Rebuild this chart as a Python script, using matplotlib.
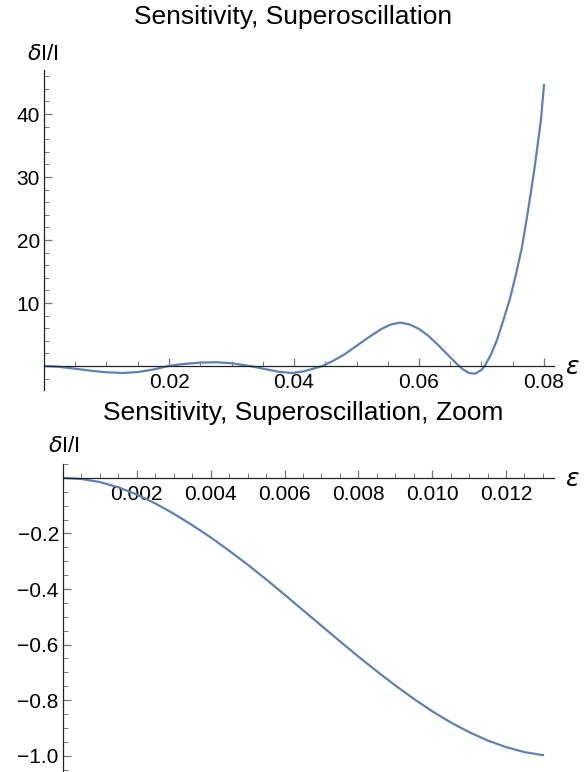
import matplotlib
matplotlib.use("Agg")
import matplotlib.pyplot as plt
from matplotlib.ticker import MultipleLocator, FixedLocator

plt.rcParams['font.family'] = ['Liberation Sans', 'DejaVu Sans']
plt.rcParams['mathtext.fontset'] = 'dejavusans'

# top panel: full range
eps_full = [0, 0.002, 0.004, 0.006, 0.008, 0.010, 0.0126, 0.015, 0.0175, 0.0199,
            0.022, 0.025, 0.0277, 0.030, 0.032, 0.033, 0.035, 0.0375, 0.0397,
            0.0415, 0.043, 0.0445, 0.046, 0.048, 0.050, 0.052, 0.054, 0.0555,
            0.057, 0.0585, 0.060, 0.0615, 0.063, 0.0645, 0.066, 0.067, 0.068,
            0.069, 0.070, 0.0705, 0.0715, 0.0725, 0.0735, 0.0745, 0.0755,
            0.0765, 0.0775, 0.0785, 0.0795, 0.080]
dI_full = [0, -0.08, -0.3, -0.55, -0.8, -0.98, -1.1, -0.95, -0.55, 0,
           0.3, 0.55, 0.6, 0.45, 0.15, 0, -0.4, -0.9, -1.1,
           -0.85, -0.45, 0, 0.7, 1.8, 3.2, 4.6, 5.9, 6.6,
           6.9, 6.6, 5.9, 4.8, 3.4, 1.9, 0.4, -0.5, -1.1,
           -1.2, -0.6, 0, 1.8, 4.2, 7.3, 10.5, 14.5,
           19, 25, 31.5, 39, 44.6]

# bottom panel: zoom near zero
eps_zoom = [0, 0.0005, 0.001, 0.0015, 0.002, 0.0025, 0.003, 0.0035, 0.004, 0.0045,
            0.005, 0.0055, 0.006, 0.0065, 0.007, 0.0075, 0.008, 0.0085, 0.009,
            0.0095, 0.010, 0.0105, 0.011, 0.0115, 0.012, 0.0125, 0.013]
dI_zoom = [0, -0.004, -0.015, -0.034, -0.06, -0.092, -0.129, -0.17, -0.214, -0.262,
           -0.312, -0.365, -0.42, -0.476, -0.532, -0.588, -0.643, -0.696, -0.747,
           -0.795, -0.84, -0.88, -0.915, -0.945, -0.969, -0.987, -0.998]

line_color = '#5E81B5'
W, H = 584, 772

def rect(l, r, t, b):
    return [l / W, 1 - b / H, (r - l) / W, (b - t) / H]

def style_axes(ax):
    ax.spines['top'].set_visible(False)
    ax.spines['right'].set_visible(False)
    ax.spines['bottom'].set_position(('data', 0))
    for s in ('left', 'bottom'):
        ax.spines[s].set_color('#222222')
        ax.spines[s].set_linewidth(0.9)
    ax.tick_params(which='both', direction='in', color='#777777', labelsize=15)
    ax.tick_params(which='major', length=6, width=0.9)
    ax.tick_params(which='minor', length=3.5, width=0.7)
    ax.tick_params(axis='x', pad=5)
    ax.tick_params(axis='y', pad=3)

fig = plt.figure(figsize=(W / 100, H / 100), dpi=100)

# top panel
ax1 = fig.add_axes(rect(44, 554, 70, 390))
ax1.plot(eps_full, dI_full, color=line_color, lw=1.6)
ax1.set_xlim(0, 0.0816)
ax1.set_ylim(-3.8, 47)
style_axes(ax1)
ax1.xaxis.set_major_locator(FixedLocator([0.02, 0.04, 0.06, 0.08]))
ax1.xaxis.set_minor_locator(MultipleLocator(0.005))
ax1.yaxis.set_major_locator(FixedLocator([10, 20, 30, 40]))
ax1.yaxis.set_minor_locator(MultipleLocator(2))
ax1.set_xticklabels(['0.02', '0.04', '0.06', '0.08'])
ax1.set_yticklabels(['10', '20', '30', '40'])
fig.text(293 / W, 1 - 17 / H, 'Sensitivity, Superoscillation', ha='center', va='center', fontsize=19)
fig.text(43 / W, 1 - 54 / H, r'$\delta$I/I', ha='center', va='center', fontsize=16)
fig.text(572 / W, 1 - 367 / H, r'$\epsilon$', ha='center', va='center', fontsize=18)

# bottom panel
ax2 = fig.add_axes(rect(63, 554, 464, 771))
ax2.plot(eps_zoom, dI_zoom, color=line_color, lw=1.6)
ax2.set_xlim(0, 0.0133)
ax2.set_ylim(-1.055, 0.05)
style_axes(ax2)
xt = [0.002, 0.004, 0.006, 0.008, 0.010, 0.012]
ax2.xaxis.set_major_locator(FixedLocator(xt))
ax2.xaxis.set_minor_locator(MultipleLocator(0.0005))
ax2.set_xticklabels(['0.002', '0.004', '0.006', '0.008', '0.010', '0.012'])
yt = [-0.2, -0.4, -0.6, -0.8, -1.0]
ax2.yaxis.set_major_locator(FixedLocator(yt))
ax2.yaxis.set_minor_locator(MultipleLocator(0.05))
ax2.set_yticklabels(['\u22120.2', '\u22120.4', '\u22120.6', '\u22120.8', '\u22121.0'])
fig.text(303 / W, 1 - 413 / H, 'Sensitivity, Superoscillation, Zoom', ha='center', va='center', fontsize=19)
fig.text(64 / W, 1 - 446 / H, r'$\delta$I/I', ha='center', va='center', fontsize=16)
fig.text(572 / W, 1 - 479 / H, r'$\epsilon$', ha='center', va='center', fontsize=18)

fig.savefig('out.png', dpi=100)
